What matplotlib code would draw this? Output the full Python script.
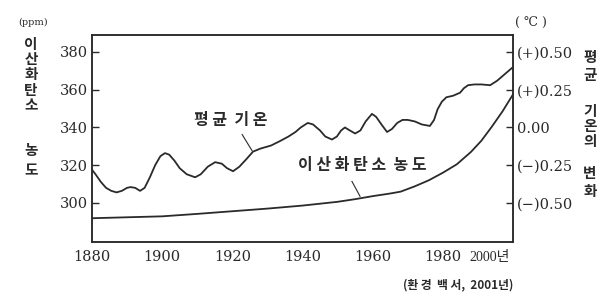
import matplotlib
matplotlib.use("Agg")
import matplotlib.pyplot as plt

# values
years_temp = [1880, 1881, 1882.5, 1884, 1885.5, 1887, 1888.5, 1890, 1891, 1892.3, 1893.7, 1895, 1896.5,
              1898, 1899.5, 1900.8, 1902, 1903.5, 1905, 1907, 1909.4, 1911, 1913, 1915.1, 1917, 1918.5,
              1920.2, 1922, 1924, 1925.9, 1928, 1931, 1933.6, 1936, 1938, 1939.5, 1941.5, 1943, 1945,
              1946.5, 1948.4, 1949.8, 1951, 1952.1, 1953.5, 1955, 1956.5, 1958, 1959.8, 1961, 1962.5,
              1964.1, 1965.5, 1967, 1968.5, 1970, 1972, 1974, 1976.3, 1977.5, 1978.5, 1979.7, 1981,
              1982.9, 1984.9, 1986, 1987.2, 1989, 1991, 1993.5, 1995.5, 1998, 2000]
temp = [-0.28, -0.31, -0.36, -0.40, -0.42, -0.43, -0.42, -0.40, -0.395, -0.40, -0.42, -0.40, -0.33,
        -0.25, -0.19, -0.17, -0.18, -0.22, -0.27, -0.31, -0.33, -0.31, -0.26, -0.23, -0.24, -0.27,
        -0.29, -0.26, -0.21, -0.16, -0.14, -0.12, -0.09, -0.06, -0.03, 0.00, 0.03, 0.02, -0.02,
        -0.06, -0.08, -0.06, -0.02, 0.00, -0.02, -0.04, -0.02, 0.04, 0.09, 0.07, 0.02,
        -0.03, -0.01, 0.03, 0.05, 0.05, 0.04, 0.02, 0.01, 0.05, 0.12, 0.17, 0.20,
        0.21, 0.23, 0.26, 0.28, 0.285, 0.285, 0.28, 0.31, 0.36, 0.40]

years_co2 = [1880, 1890, 1900, 1910, 1920, 1930, 1940, 1950, 1955, 1960, 1965, 1968, 1972, 1976,
             1980, 1984, 1988, 1991, 1994, 1997, 2000]
co2 = [291.9, 292.4, 292.9, 294.2, 295.6, 297.0, 298.6, 300.6, 302.0, 303.6, 305.0, 306.0, 308.8,
       312.0, 316.0, 320.5, 327.0, 333.0, 340.5, 348.5, 357.5]

x_ticks = [1880, 1900, 1920, 1940, 1960, 1980]
x_labels = ["1880", "1900", "1920", "1940", "1960", "1980"]
last_label = "2000년"
co2_ticks = [300, 320, 340, 360, 380]
temp_ticks = [-0.50, -0.25, 0.00, 0.25, 0.50]
temp_labels = ["(−)0.50", "(−)0.25", "0.00", "(+)0.25", "(+)0.50"]

W, H = 613, 294
serif = ["DejaVu Serif", "Noto Sans CJK KR"]
narrow_serif = ["Liberation Serif", "Noto Sans CJK KR"]
kr = ["Noto Sans CJK KR", "DejaVu Sans"]
ink = "#2a2a2a"

fig = plt.figure(figsize=(W / 100, H / 100), dpi=100)
ax = fig.add_axes([92 / W, 1 - 242 / H, (513 - 92) / W, (242 - 35) / H])
ax2 = ax.twinx()

ax.plot(years_co2, co2, color=ink, lw=1.3)
ax2.plot(years_temp, temp, color=ink, lw=1.3)

ax.set_xlim(1880, 2000)
ax.set_ylim(279.3, 389.0)
ax2.set_ylim((279.3 - 340) / 80, (389.0 - 340) / 80)

ax.set_xticks(x_ticks)
ax.set_xticklabels(x_labels, family=serif, fontsize=10.5, color=ink)
ax.tick_params(axis="x", length=0, pad=6)
fig.text(510 / W, 1 - 258 / H, last_label, family=narrow_serif, fontsize=10, color=ink,
         ha="right", va="center")

ax.set_yticks(co2_ticks)
ax.set_yticklabels([str(v) for v in co2_ticks], family=serif, fontsize=10.5, color=ink)
ax.tick_params(axis="y", direction="in", length=5, width=1, pad=3, color=ink)

ax2.set_yticks(temp_ticks)
ax2.set_yticklabels(temp_labels, family=serif, fontsize=10.5, color=ink)
ax2.tick_params(axis="y", direction="in", length=5, width=1, pad=3, color=ink)

for a in (ax, ax2):
    for s in a.spines.values():
        s.set_color(ink)
        s.set_linewidth(1.1)

# annotations
ax2.text(1919.6, 0.05, "평 균  기 온", family=kr, fontsize=11.5, weight="bold", color=ink,
         ha="center", va="center")
ax2.plot([1922.8, 1925.6], [-0.047, -0.153], color=ink, lw=0.8)
ax.text(1957, 320.0, "이 산 화 탄 소  농 도", family=kr, fontsize=11.5, weight="bold", color=ink,
        ha="center", va="center")
ax.plot([1954.1, 1956.4], [311.4, 303.5], color=ink, lw=0.8)

# stacked vertical axis titles
def stack(chars, x, ys, size):
    for c, y in zip(chars, ys):
        fig.text(x / W, 1 - y / H, c, family=kr, fontsize=size, weight="bold", color=ink,
                 ha="center", va="center")

stack("이산화탄소농도", 31, [44, 59, 74, 90, 105, 150, 170], 10.5)
stack("평균기온의변화", 590, [57, 75, 111, 126, 141, 173, 191], 10.5)

fig.text(33 / W, 1 - 22 / H, "(ppm)", family=serif, fontsize=7, color=ink, ha="center", va="center")
fig.text(531 / W, 1 - 23 / H, "( ℃ )", family=serif, fontsize=9, color=ink, ha="center", va="center")
fig.text(513 / W, 1 - 285 / H, "(환 경  백 서,  2001년)", family=kr, fontsize=8.5, weight="bold",
         color=ink, ha="right", va="center")

fig.savefig("out.png", dpi=100)
